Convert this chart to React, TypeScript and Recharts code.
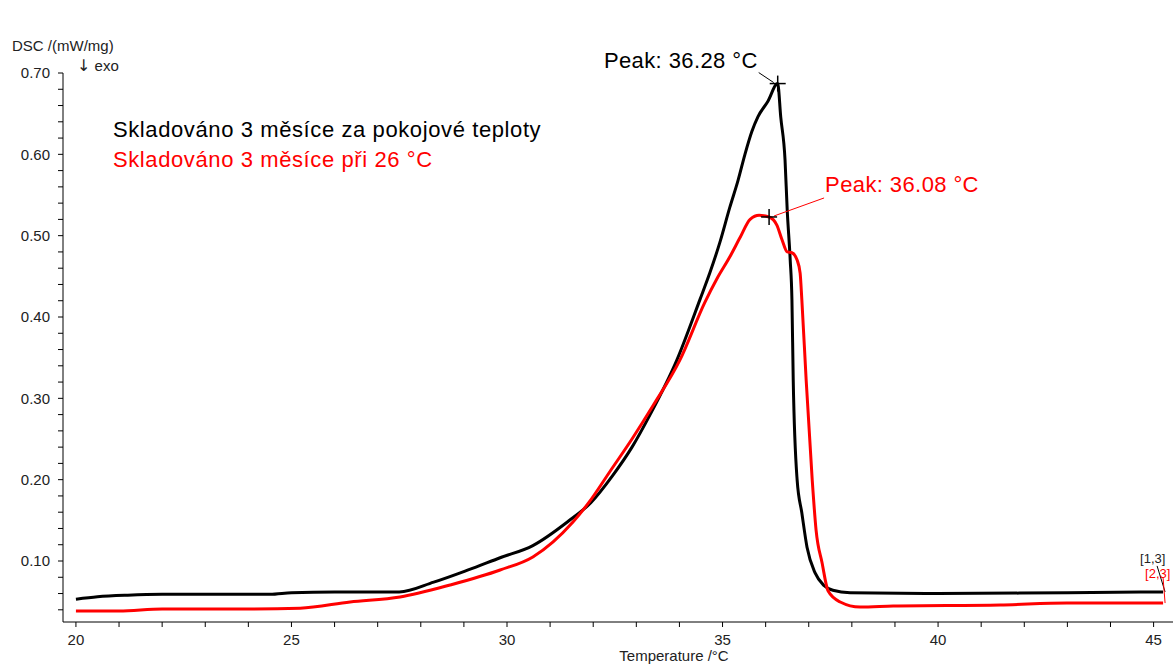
import React from 'react';
import { LineChart, Line, XAxis, YAxis, ReferenceDot } from 'recharts';

// black curve: stored 3 months at room temperature
const blackTemp = [20.0, 20.5, 21.2, 22.0, 24.5, 25.0, 26.0, 27.5, 28.3, 29.1, 29.84, 30.6, 31.4, 31.95, 32.45, 32.9, 33.32, 33.94, 34.48, 34.71, 34.94, 35.17, 35.36, 35.52, 35.68, 35.82, 36.05, 36.28, 36.35, 36.45, 36.5, 36.57, 36.61, 36.64, 36.73, 36.84, 36.96, 37.15, 37.35, 37.56, 37.96, 40.0, 43.0, 45.22];
const blackDsc = [0.053, 0.056, 0.058, 0.059, 0.059, 0.061, 0.062, 0.062, 0.074, 0.089, 0.104, 0.119, 0.148, 0.172, 0.205, 0.24, 0.28, 0.347, 0.422, 0.455, 0.492, 0.535, 0.568, 0.6, 0.628, 0.646, 0.665, 0.687, 0.646, 0.593, 0.532, 0.47, 0.421, 0.3225, 0.2, 0.159, 0.117, 0.085, 0.07, 0.064, 0.061, 0.06, 0.061, 0.062];

// red curve: stored 3 months at 26 °C
const redTemp = [20.0, 21.0, 22.0, 24.0, 25.2, 26.36, 27.52, 28.68, 29.84, 30.6, 31.53, 31.9, 32.4, 32.9, 33.4, 34.01, 34.59, 34.87, 35.17, 35.41, 35.64, 35.85, 36.08, 36.26, 36.38, 36.5, 36.61, 36.73, 36.8, 36.84, 36.94, 37.08, 37.17, 37.31, 37.45, 37.73, 38.19, 38.96, 41.44, 42.99, 45.22];
const redDsc = [0.0385, 0.0385, 0.041, 0.041, 0.042, 0.0496, 0.0557, 0.0705, 0.0889, 0.105, 0.148, 0.172, 0.211, 0.25, 0.292, 0.347, 0.418, 0.447, 0.474, 0.498, 0.52, 0.525, 0.523, 0.513, 0.495, 0.48, 0.479, 0.47, 0.454, 0.421, 0.3225, 0.2, 0.138, 0.0975, 0.063, 0.0496, 0.0434, 0.0446, 0.0459, 0.0483, 0.0483];

const xTicks = [20, 21, 22, 23, 24, 25, 26, 27, 28, 29, 30, 31, 32, 33, 34, 35, 36, 37, 38, 39, 40, 41, 42, 43, 44, 45];
const xLabels = [20, 25, 30, 35, 40, 45];
const yTicks = [0.04, 0.06, 0.08, 0.1, 0.12, 0.14, 0.16, 0.18, 0.2, 0.22, 0.24, 0.26, 0.28, 0.3, 0.32, 0.34, 0.36, 0.38, 0.4, 0.42, 0.44, 0.46, 0.48, 0.5, 0.52, 0.54, 0.56, 0.58, 0.6, 0.62, 0.64, 0.66, 0.68, 0.7];
const yLabels = [0.1, 0.2, 0.3, 0.4, 0.5, 0.6, 0.7];

const blackPeak = { t: 36.28, v: 0.687, label: 'Peak: 36.28 °C' };
const redPeak = { t: 36.08, v: 0.523, label: 'Peak: 36.08 °C' };

const blackData = blackTemp.map((t, i) => ({ t, v: blackDsc[i] }));
const redData = redTemp.map((t, i) => ({ t, v: redDsc[i] }));
const blackEnd = blackData[blackData.length - 1];
const redEnd = redData[redData.length - 1];

const FONT = '"Liberation Sans", Arial, sans-serif';
const RED = '#ff0000';

const XTick = (props: any) => {
  const { x, y, payload } = props;
  if (!xLabels.includes(payload.value)) return <g />;
  return (
    <text x={x} y={y} dy="0.71em" textAnchor="middle" fontSize={15} fontFamily={FONT} fill="#222">
      {payload.value}
    </text>
  );
};

const YTick = (props: any) => {
  const { x, y, payload } = props;
  if (!yLabels.some((l) => Math.abs(l - payload.value) < 1e-6)) return <g />;
  return (
    <text x={x} y={y} dy="0.36em" textAnchor="end" fontSize={15} fontFamily={FONT} fill="#222">
      {payload.value.toFixed(2)}
    </text>
  );
};

const plus = (cx: number, cy: number) => (
  <g stroke="#000" strokeWidth={1.5}>
    <line x1={cx - 8} y1={cy} x2={cx + 8} y2={cy} />
    <line x1={cx} y1={cy - 8} x2={cx} y2={cy + 8} />
  </g>
);

const BlackPeakMark = (props: any) => {
  const { cx, cy } = props;
  return (
    <g>
      <line x1={cx - 19} y1={cy - 11} x2={cx - 4} y2={cy - 1} stroke="#000" strokeWidth={1} />
      {plus(cx, cy)}
      <text x={cx - 20} y={cy - 16} textAnchor="end" fontSize={22} letterSpacing={0.4} fontFamily={FONT} fill="#000">
        {blackPeak.label}
      </text>
    </g>
  );
};

const RedPeakMark = (props: any) => {
  const { cx, cy } = props;
  return (
    <g>
      <line x1={cx + 55} y1={cy - 19} x2={cx + 5} y2={cy - 1} stroke={RED} strokeWidth={1} />
      {plus(cx, cy)}
      <text x={cx + 56} y={cy - 25} fontSize={22} letterSpacing={0.4} fontFamily={FONT} fill={RED}>
        {redPeak.label}
      </text>
    </g>
  );
};

const BlackEndMark = (props: any) => {
  const { cx, cy } = props;
  return (
    <g>
      <line x1={cx - 6} y1={cy - 26} x2={cx + 2} y2={cy} stroke="#000" strokeWidth={1} />
      <text x={cx - 23} y={cy - 29} fontSize={13} fontFamily={FONT} fill="#222">[1,3]</text>
    </g>
  );
};

const RedEndMark = (props: any) => {
  const { cx, cy } = props;
  return (
    <g>
      <line x1={cx} y1={cy - 25} x2={cx + 2} y2={cy} stroke={RED} strokeWidth={1} />
      <text x={cx - 18} y={cy - 25} fontSize={13} fontFamily={FONT} fill={RED}>[2,3]</text>
    </g>
  );
};

export default function App() {
  return (
    <div style={{ position: 'absolute', left: 0, top: 0, width: 1173, height: 665, background: '#fff', fontFamily: FONT }}>
      <LineChart width={1173} height={665} data={blackData} margin={{ top: 73, right: 0, bottom: 0, left: 0 }}>
        <XAxis
          type="number"
          dataKey="t"
          domain={[19.7, 45.45]}
          ticks={xTicks}
          interval={0}
          tick={XTick}
          tickSize={5}
          tickMargin={7}
          height={43}
          stroke="#000"
          allowDataOverflow
        />
        <YAxis
          type="number"
          domain={[0.025, 0.7]}
          ticks={yTicks}
          interval={0}
          tick={YTick}
          tickSize={5}
          tickMargin={8}
          width={63}
          stroke="#000"
          allowDataOverflow
        />
        <Line data={blackData} dataKey="v" type="monotone" stroke="#000" strokeWidth={3} dot={false} isAnimationActive={false} />
        <Line data={redData} dataKey="v" type="monotone" stroke={RED} strokeWidth={3} dot={false} isAnimationActive={false} />
        <ReferenceDot x={blackPeak.t} y={blackPeak.v} shape={BlackPeakMark} />
        <ReferenceDot x={redPeak.t} y={redPeak.v} shape={RedPeakMark} />
        <ReferenceDot x={blackEnd.t} y={blackEnd.v} shape={BlackEndMark} />
        <ReferenceDot x={redEnd.t} y={redEnd.v} shape={RedEndMark} />
      </LineChart>
      <svg width={1173} height={665} style={{ position: 'absolute', left: 0, top: 0, pointerEvents: 'none' }}>
        <text x={12} y={51} fontSize={15} fontFamily={FONT} fill="#222">DSC /(mW/mg)</text>
        <text x={77} y={71} fontSize={15} fontFamily={FONT} fill="#222">
          <tspan fontFamily='"DejaVu Sans", sans-serif' fontSize={16}>↓</tspan> exo
        </text>
        <text x={113} y={137} fontSize={22} letterSpacing={0.6} fontFamily={FONT} fill="#000">
          Skladováno 3 měsíce za pokojové teploty
        </text>
        <text x={113} y={167} fontSize={22} letterSpacing={0.6} fontFamily={FONT} fill={RED}>
          Skladováno 3 měsíce při 26 °C
        </text>
        <text x={674} y={661} textAnchor="middle" fontSize={15} fontFamily={FONT} fill="#222">
          Temperature /°C
        </text>
      </svg>
    </div>
  );
}
